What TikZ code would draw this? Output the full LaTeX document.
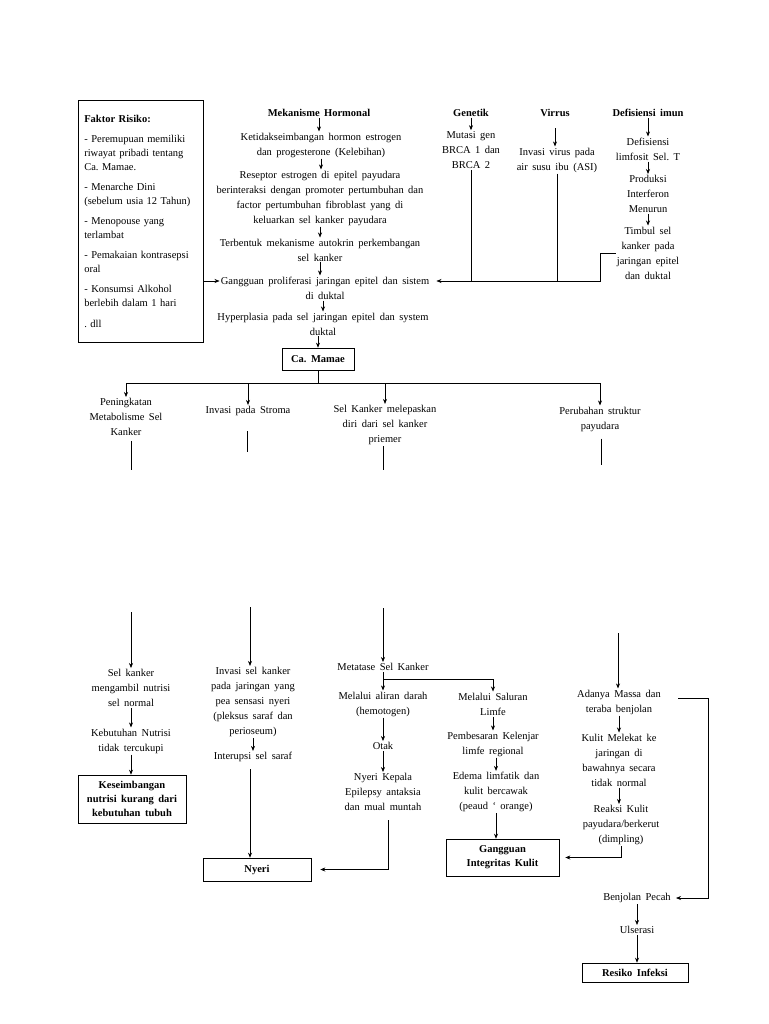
\documentclass[tikz,border=0pt]{standalone}
\usepackage{fontspec}
\setmainfont{Liberation Serif}[WordSpace=1.7]
\usetikzlibrary{positioning, arrows.meta}
\frenchspacing

\begin{document}
\begin{tikzpicture}[x=1pt, y=-1pt, >={Stealth[length=5pt,width=4pt]}, line width=0.6pt,
    every node/.style={align=center, inner sep=1pt, font=\fontsize{10.5}{15}\selectfont},
    judul/.style={font=\fontsize{10.5}{15}\selectfont\bfseries},
    kotak/.style={draw, font=\fontsize{10.5}{14}\selectfont\bfseries}]
            \useasboundingbox (0,0) rectangle (768,1024);

            % faktor risiko
            \node [draw, anchor=north west, align=left, text width=113pt, inner sep=6pt,
                minimum height=242pt, font=\fontsize{10.5}{14}\selectfont] (FR) at (78,100)
                {\textbf{Faktor Risiko:}\\[6pt]
                - Peremupuan memiliki\\ riwayat pribadi tentang\\ Ca. Mamae.\\[6pt]
                - Menarche Dini\\ (sebelum usia 12 Tahun)\\[6pt]
                - Menopouse yang\\ terlambat\\[6pt]
                - Pemakaian kontrasepsi\\ oral\\[6pt]
                - Konsumsi Alkohol\\ berlebih dalam 1 hari\\[7pt]
                . dll};

            % mekanisme hormonal
            \node [judul] (MH) at (319,113) {Mekanisme Hormonal};
            \node (Ket) at (321,145) {Ketidakseimbangan hormon estrogen\\dan progesterone (Kelebihan)};
            \node (Res) at (320,198) {Reseptor estrogen di epitel payudara\\berinteraksi dengan promoter pertumbuhan dan\\factor pertumbuhan fibroblast yang di\\keluarkan sel kanker payudara};
            \node (Terb) at (320,250) {Terbentuk mekanisme autokrin perkembangan\\sel kanker};
            \node (Gang) at (325,288) {Gangguan proliferasi jaringan epitel dan sistem\\di duktal};
            \node (Hyp) at (323,324) {Hyperplasia pada sel jaringan epitel dan system\\duktal};
            \node [kotak, minimum width=72pt, minimum height=22pt] (CM) at (318,359) {Ca. Mamae};

            \draw [->] (MH) -- (MH |- Ket.north);
            \draw [->] (Ket) -- (Ket |- Res.north);
            \draw [->] (Res) -- (Res |- Terb.north);
            \draw [->] (Terb) -- (Terb |- Gang.north);
            \draw [->] (Hyp |- Gang.south) -- (Hyp.north);
            \draw [->] (CM |- Hyp.south) -- (CM.north);

            % genetik, virus, imun
            \node [judul] (Gen) at (471,113) {Genetik};
            \node (Mut) at (471,150) {Mutasi gen\\BRCA 1 dan\\BRCA 2};
            \node [judul] (Vir) at (555,113) {Virrus};
            \node (Inv) at (557,160) {Invasi virus pada\\air susu ibu (ASI)};
            \node [judul] (DI) at (648,113) {Defisiensi imun};
            \node (Def) at (648,149) {Defisiensi\\limfosit Sel. T};
            \node (Prod) at (648,194) {Produksi\\Interferon\\Menurun};
            \node (Tim) at (648,253) {Timbul sel\\kanker pada\\jaringan epitel\\dan duktal};

            \draw [->] (Gen) -- (Gen |- Mut.north);
            \draw [->, shorten <=10pt] (Vir) -- (Vir |- Inv.north);
            \draw [->] (DI) -- (DI |- Def.north);
            \draw [->] (Def) -- (Def |- Prod.north);
            \draw [->] (Prod) -- (Prod |- Tim.north);

            \coordinate (jn) at ([shift={(6pt,7pt)}]Gang.east);
            \draw [->] (Tim.west) -- ++(-15,0) |- (jn);
            \draw (Mut) -- (Mut |- jn);
            \draw (Inv) -- (Inv |- jn);
            \draw [->] (FR.east |- jn) -- (Gang.west |- jn);

            % cabang ca. mamae
            \node (Pen) at (126,417) {Peningkatan\\Metabolisme Sel\\Kanker};
            \node (IS) at (248,411) {Invasi pada Stroma};
            \node (SK) at (385,425) {Sel Kanker melepaskan\\diri dari sel kanker\\priemer};
            \node (PS) at (600,419) {Perubahan struktur\\payudara};

            \coordinate (split) at (318,383);
            \draw (CM) -- (split);
            \draw [->] (split) -| (Pen);
            \draw [->] (split) -| (IS);
            \draw [->] (split) -| (SK);
            \draw [->] (split) -| (PS);

            \coordinate (a2) at (131,470);
            \coordinate (a3) at (131,612);
            \coordinate (b2) at (247,452);
            \coordinate (b3) at (250,607);
            \coordinate (c2) at (383,470);
            \coordinate (c3) at (383,608);
            \coordinate (d2) at (601,465);
            \coordinate (d3) at (618,633);
            \draw [shorten <=4pt] (Pen.south -| a2) -- (a2);
            \draw [shorten <=14pt] (IS.south -| b2) -- (b2);
            \draw (SK.south -| c2) -- (c2);
            \draw [shorten <=6pt] (PS.south -| d2) -- (d2);

            % kolom nutrisi
            \node (SKm) at (131,688) {Sel kanker\\mengambil nutrisi\\sel normal};
            \node (KN) at (131,741) {Kebutuhan Nutrisi\\tidak tercukupi};
            \node [kotak, minimum width=108pt, minimum height=48pt] (KNB) at (132,799) {Keseimbangan\\nutrisi kurang dari\\kebutuhan tubuh};

            \draw [->] (a3) -- (a3 |- SKm.north);
            \draw [->] (SKm) -- (SKm |- KN.north);
            \draw [->] (KN) -- (KN |- KNB.north);

            % kolom nyeri
            \node (ISk) at (253,702) {Invasi sel kanker\\pada jaringan yang\\pea sensasi nyeri\\(pleksus saraf dan\\perioseum)};
            \node (Int) at (253,757) {Interupsi sel saraf};
            \node [kotak, minimum width=108pt, minimum height=23pt] (Ny) at (257,869.5) {Nyeri};

            \draw [->] (b3) -- (b3 |- ISk.north);
            \draw [->] (ISk) -- (ISk |- Int.north);
            \draw [->, shorten <=6pt] ([xshift=-3pt]Int.south) -- ([xshift=-3pt]Int.south |- Ny.north);

            % kolom metastase
            \node (Met) at (383,667) {Metatase Sel Kanker};
            \node (Mad) at (383,704) {Melalui aliran darah\\(hemotogen)};
            \node (Otak) at (383,746) {Otak};
            \node (NK) at (383,792) {Nyeri Kepala\\Epilepsy antaksia\\dan mual muntah};
            \node (Msl) at (493,704) {Melalui Saluran\\Limfe};
            \node (PK) at (493,744) {Pembesaran Kelenjar\\limfe regional};
            \node (Ed) at (496,792) {Edema limfatik dan\\kulit bercawak\\(peaud ‘ orange)};
            \node [kotak, minimum width=113pt, minimum height=37pt] (GIK) at (502.5,857.5) {Gangguan\\Integritas Kulit};

            \draw [->] (c3) -- (c3 |- Met.north);
            \draw [->] (Met) -- (Met |- Mad.north);
            \draw [->] (Met.south) ++(0,7) -| (Msl);
            \draw [->] (Mad) -- (Mad |- Otak.north);
            \draw [->] (Otak) -- (Otak |- NK.north);
            \draw [->, shorten <=8pt, shorten >=9pt] ([xshift=5pt]NK.south) |- (Ny.east);
            \draw [->] (Msl) -- (Msl |- PK.north);
            \draw [->] ([xshift=3pt]PK.south) -- ([xshift=3pt]PK.south |- Ed.north);
            \draw [->] (Ed) -- (Ed |- GIK.north);

            % kolom payudara
            \node (Ada) at (619,702) {Adanya Massa dan\\teraba benjolan};
            \node (KM) at (619,760) {Kulit Melekat ke\\jaringan di\\bawahnya secara\\tidak normal};
            \node (RK) at (621,825) {Reaksi Kulit\\payudara/berkerut\\(dimpling)};
            \node (BP) at (637,898) {Benjolan Pecah};
            \node (Ul) at (637,930) {Ulserasi};
            \node [kotak, minimum width=106pt, minimum height=19pt] (RI) at (635,972.5) {Resiko Infeksi};

            \draw [->] (d3) -- (d3 |- Ada.north);
            \draw [->] (Ada) -- (Ada |- KM.north);
            \draw [->] (KM) -- (KM |- RK.north);
            \draw [->, shorten >=6pt] (RK.south) |- (GIK.east);
            \draw [->, shorten <=16pt, shorten >=4pt] ([yshift=4pt]Ada.east) -- ++(46,0) |- (BP.east);
            \draw [->] (BP) -- (BP |- Ul.north);
            \draw [->] (Ul) -- (Ul |- RI.north);
        \end{tikzpicture}
\end{document}
